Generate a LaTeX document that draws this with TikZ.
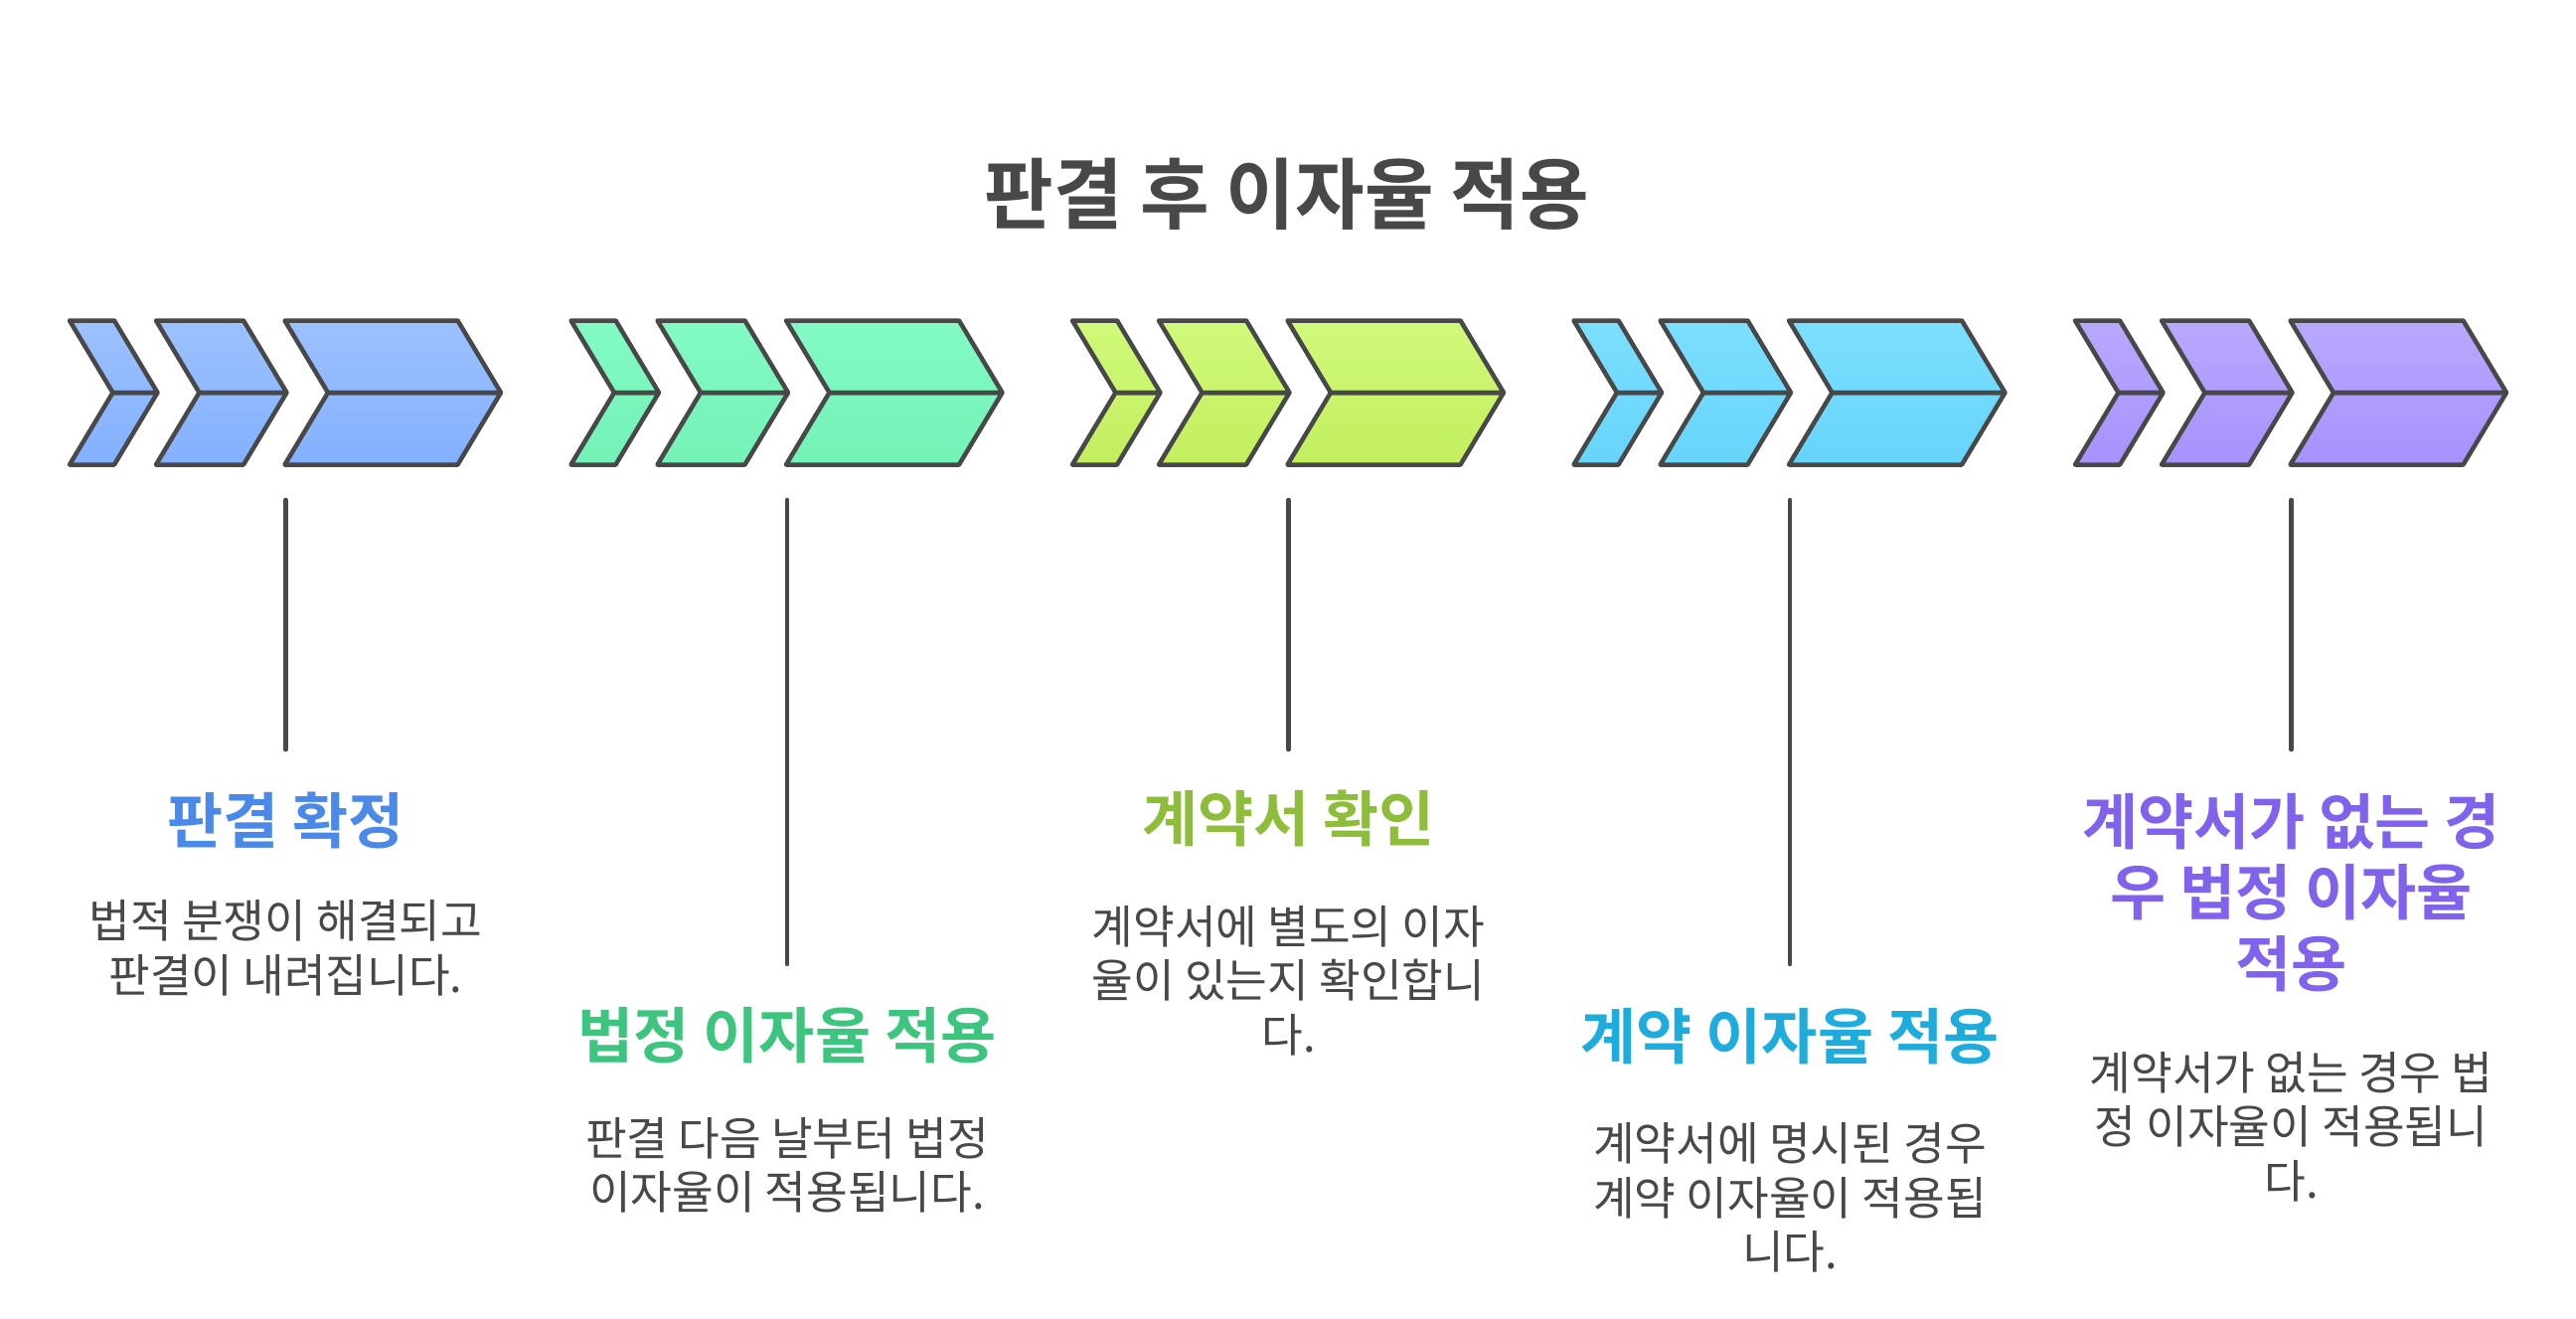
\documentclass[tikz,border=0pt]{standalone}
\usepackage{fontspec}
\newfontfamily\kbold{Noto Sans CJK KR Bold}[FakeStretch=0.97]
\newfontfamily\kboldstep{Noto Sans CJK KR Bold}
\newfontfamily\kreg{Noto Sans CJK KR}[FakeStretch=0.985]
\definecolor{ink}{HTML}{484848}
\definecolor{blueT}{HTML}{9DC1FF}\definecolor{blueB}{HTML}{82B0FF}\definecolor{blueH}{HTML}{4A89E8}
\definecolor{greenT}{HTML}{82FAC4}\definecolor{greenB}{HTML}{73F2B6}\definecolor{greenH}{HTML}{3DC47E}
\definecolor{limeT}{HTML}{D0FA7A}\definecolor{limeB}{HTML}{C2EE5E}\definecolor{limeH}{HTML}{8DBD3A}
\definecolor{cyanT}{HTML}{7CDFFF}\definecolor{cyanB}{HTML}{66D4FA}\definecolor{cyanH}{HTML}{1DACDC}
\definecolor{purpT}{HTML}{B9A8FF}\definecolor{purpB}{HTML}{A891FC}\definecolor{purpH}{HTML}{8062EC}
\tikzset{
  chevline/.style={draw=ink, line width=4.5pt, line join=round},
  stem/.style={draw=ink, line width=4.5pt, line cap=round},
  maintitle/.style={font=\kbold\fontsize{78}{90}\selectfont, text=ink, inner sep=0pt},
  steptitle/.style={font=\kboldstep\fontsize{61}{71.5}\selectfont, align=center, inner sep=0pt},
  desc/.style={font=\kreg\fontsize{46}{54.5}\selectfont, text=ink, align=center, inner sep=0pt},
}
\newcommand\chevrongroup[3]{%
  \begin{scope}[xshift=#1pt]
  \foreach \l/\r/\t/\n in {0/45/88.5/43.5, 87/175/218.5/130.5, 216.5/390.5/434/260}{
    \shade[top color=#2, bottom color=#3] (\l,322.5) -- (\r,322.5) -- (\t,395) -- (\r,467.5) -- (\l,467.5) -- (\n,395) -- cycle;
    \draw[chevline] (\l,322.5) -- (\r,322.5) -- (\t,395) -- (\n,395) -- cycle;
    \draw[chevline] (\n,395) -- (\t,395) -- (\r,467.5) -- (\l,467.5) -- cycle;
  }
  \end{scope}}
\begin{document}
\begin{tikzpicture}[x=1pt, y=-1pt]
  \useasboundingbox[fill=white] (0,0) rectangle (2592,1326);
  \node[maintitle] (title) at (1295,195) {판결 후 이자율 적용};

  \chevrongroup{70}{blueT}{blueB}
  \chevrongroup{574.5}{greenT}{greenB}
  \chevrongroup{1079}{limeT}{limeB}
  \chevrongroup{1583.5}{cyanT}{cyanB}
  \chevrongroup{2088}{purpT}{purpB}

  % stems
  \coordinate (s1a) at (287.5,503); \coordinate (s1b) at (287.5,754);
  \coordinate (s2a) at (792,503);   \coordinate (s2b) at (792,970);
  \coordinate (s3a) at (1296.5,503);\coordinate (s3b) at (1296.5,754);
  \coordinate (s4a) at (1801,503);  \coordinate (s4b) at (1801,970);
  \coordinate (s5a) at (2305.5,503);\coordinate (s5b) at (2305.5,754);
  \draw[stem] (s1a) -- (s1b);
  \draw[stem] (s2a) -- (s2b);
  \draw[stem] (s3a) -- (s3b);
  \draw[stem] (s4a) -- (s4b);
  \draw[stem] (s5a) -- (s5b);

  % step 1
  \node[steptitle, text=blueH] (t1) at (287.5,825) {판결 확정};
  \node[desc] (d1) at (287.5,954) {법적 분쟁이 해결되고\\판결이 내려집니다.};
  % step 2
  \node[steptitle, text=greenH] (t2) at (792,1042) {법정 이자율 적용};
  \node[desc] (d2) at (792,1172.5) {판결 다음 날부터 법정\\이자율이 적용됩니다.};
  % step 3
  \node[steptitle, text=limeH] (t3) at (1296.5,823) {계약서 확인};
  \node[desc] (d3) at (1296.5,986.5) {계약서에 별도의 이자\\율이 있는지 확인합니\\다.};
  % step 4
  \node[steptitle, text=cyanH] (t4) at (1801,1043) {계약 이자율 적용};
  \node[desc] (d4) at (1801,1205) {계약서에 명시된 경우\\계약 이자율이 적용됩\\니다.};
  % step 5
  \node[steptitle, text=purpH] (t5) at (2305.5,898) {계약서가 없는 경\\우 법정 이자율\\적용};
  \node[desc] (d5) at (2305.5,1133.5) {계약서가 없는 경우 법\\정 이자율이 적용됩니\\다.};
\end{tikzpicture}
\end{document}
